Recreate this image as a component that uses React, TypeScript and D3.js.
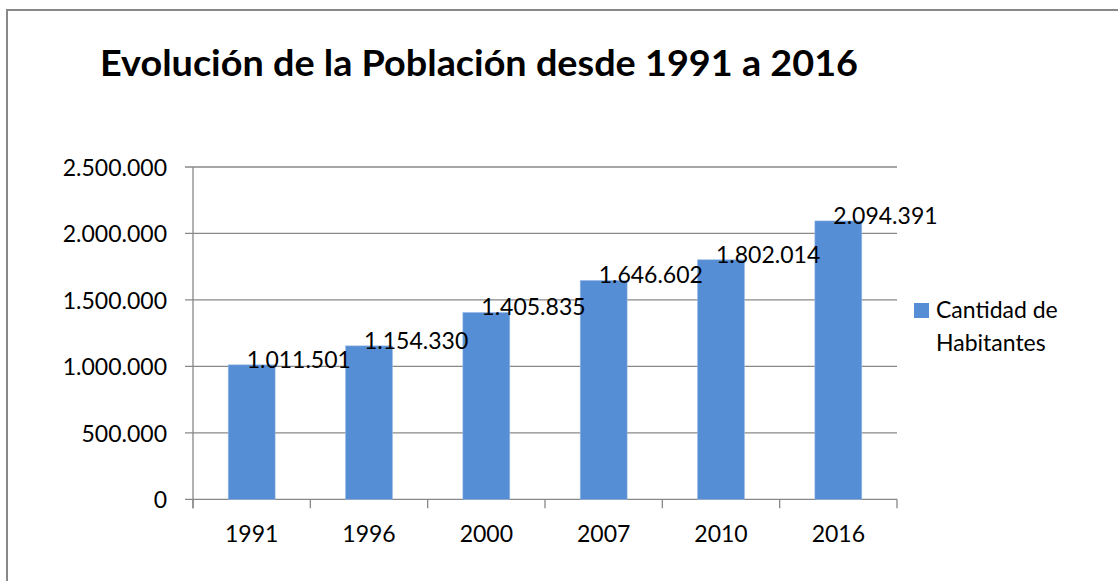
import React from "react";
import * as d3 from "d3";

const categories = ["1991", "1996", "2000", "2007", "2010", "2016"];
const values = [1011501, 1154330, 1405835, 1646602, 1802014, 2094391];
const yTicks = [0, 500000, 1000000, 1500000, 2000000, 2500000];
const title = "Evolución de la Población desde 1991 a 2016";
const seriesName = ["Cantidad de", "Habitantes"];

const W = 1118;
const H = 581;
const plot = { left: 193, right: 897, top: 167, bottom: 499.3 };
const barColor = "#558ED5";
const gridColor = "#888888";
const font = "Lato, 'Open Sans', sans-serif";

const fmt = (v: number) => {
  const s = Math.round(v).toString();
  return s.replace(/\B(?=(\d{3})+(?!\d))/g, ".");
};

export default function App() {
  const x = d3.scaleBand<string>().domain(categories).range([plot.left, plot.right]).paddingInner(0).paddingOuter(0);
  const y = d3.scaleLinear().domain([0, 2500000]).range([plot.bottom, plot.top]);
  const bw = x.bandwidth() * 0.4;
  const boundaries = categories.map((c) => x(c) as number).concat([plot.right]);
  const cxOf = (c: string) => (x(c) as number) + x.bandwidth() / 2;

  return (
    <svg width={W} height={H} style={{ position: "absolute", left: 0, top: 0, background: "#fff" }}>
      <rect x={0} y={0} width={W} height={H} fill="#fff" />
      <rect x={7} y={10} width={W + 20} height={H + 20} fill="none" stroke="#888888" strokeWidth={2} />
      <text x={100} y={76} fontFamily={font} fontWeight="bold" fontSize={36} fill="#000" textLength={758} lengthAdjust="spacingAndGlyphs">
        {title}
      </text>
      {yTicks.map((t) => (
        <g key={t}>
          <line x1={plot.left - 8} x2={plot.right} y1={y(t)} y2={y(t)} stroke={gridColor} strokeWidth={1.3} />
          <text x={167} y={y(t) + 9} textAnchor="end" fontFamily={font} fontSize={23} fill="#000">
            {fmt(t)}
          </text>
        </g>
      ))}
      <line x1={plot.left} x2={plot.left} y1={plot.top} y2={plot.bottom + 9} stroke={gridColor} strokeWidth={1.3} />
      {boundaries.map((b, i) => (
        <line key={i} x1={b} x2={b} y1={plot.bottom} y2={plot.bottom + 9} stroke={gridColor} strokeWidth={1.3} />
      ))}
      {categories.map((c, i) => {
        const cx = cxOf(c);
        const top = y(values[i]);
        return (
          <g key={c}>
            <rect x={cx - bw / 2} y={top} width={bw} height={plot.bottom - top} fill={barColor} stroke="#9dbbe6" strokeWidth={0.6} />
            <text x={cx} y={541.7} textAnchor="middle" fontFamily={font} fontSize={23} fill="#000">
              {c}
            </text>
          </g>
        );
      })}
      {categories.map((c, i) => (
        <text key={"l" + c} x={cxOf(c) - 5} y={y(values[i]) + 3} fontFamily={font} fontSize={23} fill="#000">
          {fmt(values[i])}
        </text>
      ))}
      <rect x={914} y={303} width={15} height={15} fill={barColor} />
      <text x={936} y={318} fontFamily={font} fontSize={23} fill="#000">{seriesName[0]}</text>
      <text x={936} y={351} fontFamily={font} fontSize={23} fill="#000">{seriesName[1]}</text>
    </svg>
  );
}
